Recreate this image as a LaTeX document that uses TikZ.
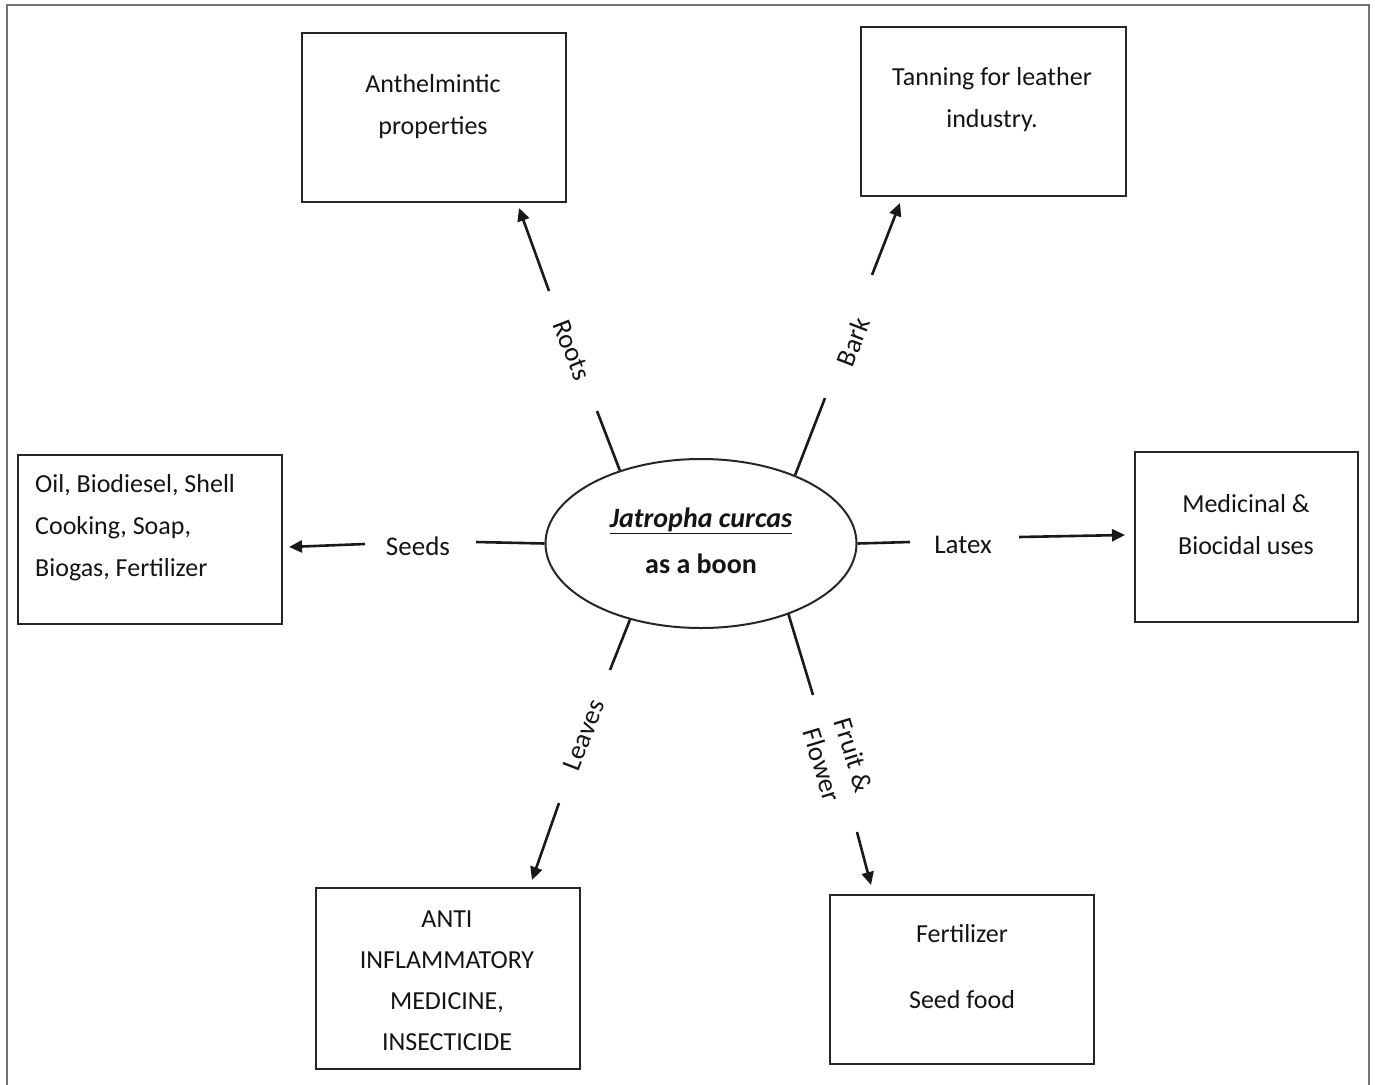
\documentclass[tikz,border=0pt]{standalone}
\usepackage{fontspec}
\setmainfont{Carlito}
\usetikzlibrary{arrows.meta,shapes.geometric}
\begin{document}
\begin{tikzpicture}[x=1pt,y=-1pt,
  frame/.style={draw=black!55,line width=2pt},
  box/.style={draw=black!85,line width=2pt,rectangle,inner sep=0pt},
  txt/.style={font=\fontsize{26}{42}\selectfont,align=center,inner sep=0pt,text=black!92},
  lab/.style={font=\fontsize{27}{30}\selectfont,inner sep=0pt,text=black!92},
  seg/.style={line width=2.6pt,black!90},
  arr/.style={line width=2.6pt,black!90,-{Triangle[length=13pt,width=12pt]}}]
\useasboundingbox (0,0) rectangle (1375,1084);
\draw[frame] (7,1090) -- (7,5) -- (1369,5) -- (1369,1090);

% central ellipse
\node[draw=black!85,line width=2pt,ellipse,minimum width=311pt,minimum height=169pt,inner sep=0pt] (ell) at (701,543.5) {};
\node[txt,font=\fontsize{28}{46}\selectfont\bfseries] (title) at (701,541) {\underline{\itshape Jatropha curcas}\\as a boon};

% boxes
\node[box,minimum width=264pt,minimum height=169pt] (b1) at (434,117.5) {};
\node[txt] (t1) at (433,107) {Anthelmintic\\properties};
\node[box,minimum width=265pt,minimum height=169pt] (b2) at (993.5,111.5) {};
\node[txt] (t2) at (992,100) {Tanning for leather\\industry.};
\node[box,minimum width=264pt,minimum height=169pt] (b3) at (150,539.5) {};
\node[txt,align=left,anchor=west] (t3) at (35,528) {Oil, Biodiesel, Shell\\Cooking, Soap,\\Biogas, Fertilizer};
\node[box,minimum width=223pt,minimum height=170pt] (b4) at (1246.5,537) {};
\node[txt] (t4) at (1246,525) {Medicinal \&\\Biocidal uses};
\node[box,minimum width=264pt,minimum height=181pt] (b5) at (448,978.5) {};
\node[txt,font=\fontsize{26}{41}\selectfont] (t5) at (447,981) {ANTI\\INFLAMMATORY\\MEDICINE,\\INSECTICIDE};
\node[box,minimum width=264pt,minimum height=169pt] (b6) at (962,979.5) {};
\node[txt,font=\fontsize{26}{66}\selectfont] (t6) at (962,967) {Fertilizer\\Seed food};

% labels
\node[lab,rotate=-69] (lroots) at (572,350) {Roots};
\node[lab,rotate=69] (lbark) at (853,342) {Bark};
\node[lab] (lseeds) at (418,546) {Seeds};
\node[lab] (llatex) at (963,545) {Latex};
\node[lab,rotate=69] (lleaves) at (584,735) {Leaves};
\node[lab,rotate=-73,align=center,font=\fontsize{27}{33}\selectfont] (lfruit) at (838,760) {Fruit \&\\Flower};

% segment end points
\coordinate (r1) at (597,411); \coordinate (r2) at (549,291); \coordinate (r3) at (519,208);
\coordinate (k1) at (825,398); \coordinate (k2) at (872,275); \coordinate (k3) at (900,203);
\coordinate (s1) at (476,542); \coordinate (s2) at (365,544); \coordinate (s3) at (289,547);
\coordinate (x1) at (910,542); \coordinate (x2) at (1019,537); \coordinate (x3) at (1125,535);
\coordinate (l1) at (610,670); \coordinate (l2) at (559,803); \coordinate (l3) at (532,880);
\coordinate (f1) at (813,695); \coordinate (f2) at (857,832); \coordinate (f3) at (871,885);

% connectors
\draw[seg] (ell.138) -- (r1);  \draw[arr] (r2) -- (r3);
\draw[seg] (ell.36) -- (k1);   \draw[arr] (k2) -- (k3);
\draw[seg] (ell.west) -- (s1); \draw[arr] (s2) -- (s3);
\draw[seg] (ell.east) -- (x1); \draw[arr] (x2) -- (x3);
\draw[seg] (ell.227) -- (l1);  \draw[arr] (l2) -- (l3);
\draw[seg] (ell.321) -- (f1);  \draw[arr] (f2) -- (f3);
\end{tikzpicture}
\end{document}
